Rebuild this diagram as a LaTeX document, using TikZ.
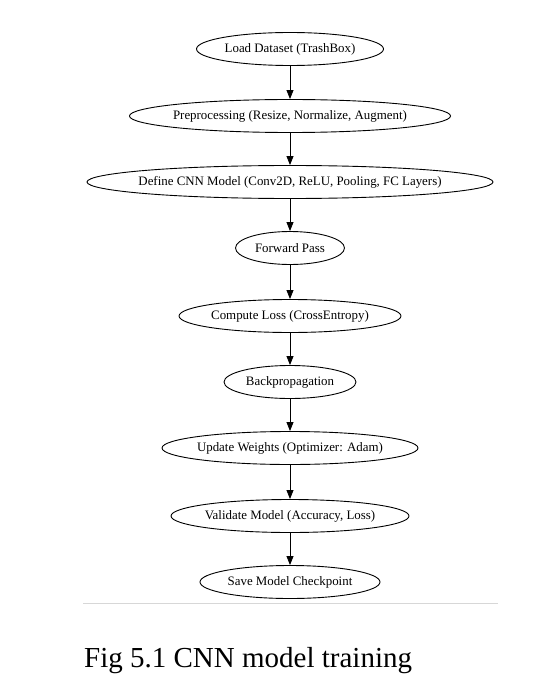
\documentclass[tikz,border=0pt]{standalone}
\usepackage{fontspec}
\setmainfont{Liberation Serif}
\usetikzlibrary{shapes.geometric,arrows.meta}
\newcommand{\zt}[1]{\makebox[0pt][c]{#1}}
\begin{document}
\begin{tikzpicture}[x=1pt,y=-1pt,
  stepnode/.style={draw=black,line width=0.9pt,ellipse,inner sep=0pt,minimum height=33pt,font=\fontsize{12.9}{14}\selectfont},
  flow/.style={draw=black,line width=0.9pt,-{Triangle[length=9pt,width=7pt]}}]
\useasboundingbox[fill=white] (0,0) rectangle (537,687);
\node[stepnode,minimum width=187pt] (n1) at (290,49) {\zt{Load Dataset (TrashBox)}};
\node[stepnode,minimum width=321pt] (n2) at (290,116) {\zt{Preprocessing (Resize, Normalize, Augment)}};
\node[stepnode,minimum width=406pt] (n3) at (290,182) {\zt{Define CNN Model (Conv2D, ReLU, Pooling, FC Layers)}};
\node[stepnode,minimum width=109pt] (n4) at (290,248) {\zt{Forward Pass}};
\node[stepnode,minimum width=222pt] (n5) at (290,316) {\zt{Compute Loss (CrossEntropy)}};
\node[stepnode,minimum width=132pt] (n6) at (290,382) {\zt{Backpropagation}};
\node[stepnode,minimum width=256pt] (n7) at (290,448) {\zt{Update Weights (Optimizer: Adam)}};
\node[stepnode,minimum width=238pt] (n8) at (290,516) {\zt{Validate Model (Accuracy, Loss)}};
\node[stepnode,minimum width=180pt] (n9) at (290,582) {\zt{Save Model Checkpoint}};
\draw[flow] (n1) -- (n2);
\draw[flow] (n2) -- (n3);
\draw[flow] (n3) -- (n4);
\draw[flow] (n4) -- (n5);
\draw[flow] (n5) -- (n6);
\draw[flow] (n6) -- (n7);
\draw[flow] (n7) -- (n8);
\draw[flow] (n8) -- (n9);
\coordinate (r1) at (83,603);
\coordinate (r2) at (498,603);
\draw[draw={rgb,255:red,215;green,215;blue,215},line width=0.8pt] (r1) -- (r2);
\node[anchor=base west,inner sep=0pt,font=\fontsize{29}{33}\selectfont] (cap) at (84,667) {Fig 5.1 CNN model training};
\end{tikzpicture}
\end{document}
